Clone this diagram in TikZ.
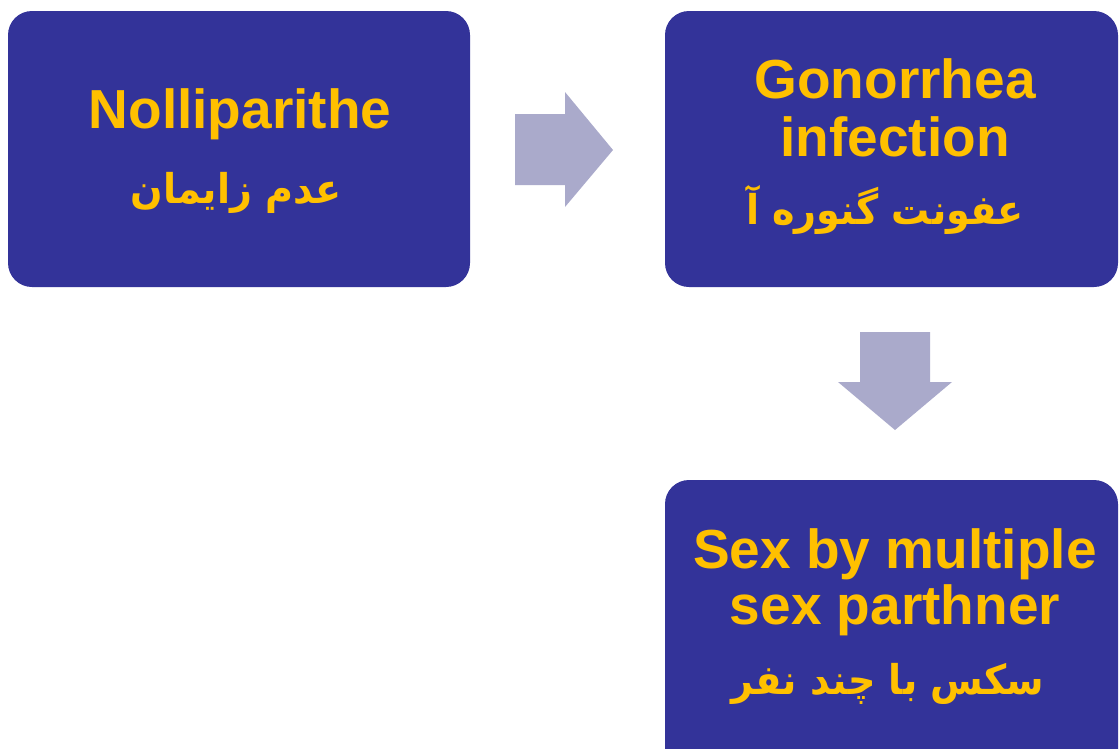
\documentclass[tikz,border=0pt]{standalone}
\usepackage{fontspec}
\setmainfont{Liberation Sans}
\newfontfamily\arabicfont[Script=Arabic,FakeStretch=0.93]{DejaVu Sans}
\TeXXeTstate=1
\definecolor{boxblue}{RGB}{51,51,153}
\definecolor{labelgold}{RGB}{255,192,0}
\definecolor{arrowgrey}{RGB}{170,170,203}
\begin{document}
\begin{tikzpicture}[x=1pt,y=-1pt,
  stepbox/.style={fill=boxblue, draw=none, rounded corners=24pt, inner sep=0pt},
  entext/.style={text=labelgold, font=\fontsize{55}{58}\selectfont\bfseries, anchor=base, inner sep=0pt},
  fatext/.style={text=labelgold, font=\fontsize{41}{44}\selectfont\arabicfont\bfseries, anchor=base, inner sep=0pt},
  blockarrow/.style={fill=arrowgrey, draw=none}]
\clip (0,0) rectangle (1120,748);
\useasboundingbox (0,0) rectangle (1120,748);
% three boxes
\node[stepbox, minimum width=462pt, minimum height=276pt] (b1) at (239,149) {};
\node[stepbox, minimum width=453pt, minimum height=276pt] (b2) at (891.5,149) {};
\node[stepbox, minimum width=453pt, minimum height=300pt] (b3) at (891.5,630) {};
% labels
\node[entext] (t1) at (240,128) {Nolliparithe};
\node[fatext] (f1) at (236,203) {\beginR عدم زایمان\endR};
\node[entext] (t2a) at (895,98) {Gonorrhea};
\node[entext] (t2b) at (895,156) {infection};
\node[fatext] (f2) at (885,224) {\beginR عفونت گنوره آ\endR};
\node[entext] (t3a) at (895,568) {Sex by multiple};
\node[entext] (t3b) at (895,624) {sex parthner};
\node[fatext] (f3) at (888,694) {\beginR سکس با چند نفر\endR};
% block arrows between boxes
\coordinate (ra) at (515,150);
\fill[blockarrow] (ra) ++(0,-36) -- ++(50,0) -- ++(0,-22) -- ++(48,58) -- ++(-48,57) -- ++(0,-22) -- ++(-50,0) -- cycle;
\coordinate (da) at (895,332);
\fill[blockarrow] (da) ++(-35,0) -- ++(70,0) -- ++(0,50) -- ++(22,0) -- ++(-57,48) -- ++(-57,-48) -- ++(22,0) -- cycle;
\end{tikzpicture}
\end{document}
